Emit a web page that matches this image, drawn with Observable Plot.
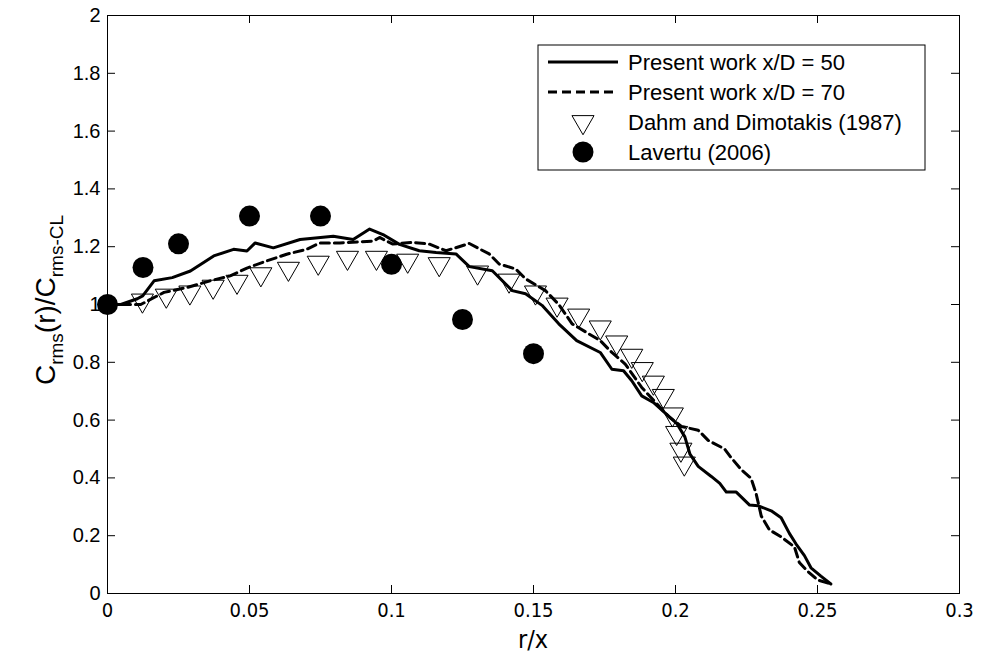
<!DOCTYPE html>
<html><head><meta charset="utf-8">
<script src="https://cdn.jsdelivr.net/npm/d3@7"></script>
<script src="https://cdn.jsdelivr.net/npm/@observablehq/plot@0.6"></script>
<style>
body{margin:0;background:#fff;}
#chart{width:984px;height:658px;}
</style></head><body><div id="chart"></div>
<script>
// Tick values
const xTicks = [0, 0.05, 0.1, 0.15, 0.2, 0.25, 0.3];
const yTicks = [0, 0.2, 0.4, 0.6, 0.8, 1, 1.2, 1.4, 1.6, 1.8, 2];

// Present work x/D = 50 (solid)
const solidX = [0, 0.0047, 0.0105, 0.0124, 0.0164, 0.0228, 0.0292, 0.0374, 0.0444, 0.0491, 0.052, 0.0584, 0.0678, 0.0795, 0.0865, 0.0923, 0.097, 0.1028, 0.1098, 0.1157, 0.1227, 0.1274, 0.1355, 0.1425, 0.1472, 0.153, 0.1589, 0.1652, 0.1735, 0.1776, 0.1817, 0.1846, 0.1881, 0.1922, 0.1963, 0.2004, 0.2033, 0.2051, 0.208, 0.2126, 0.2156, 0.2179, 0.2214, 0.2261, 0.229, 0.2337, 0.2372, 0.2401, 0.2424, 0.2454, 0.2477, 0.2512, 0.2547];
const solidY = [1.0, 1.0, 1.02, 1.03, 1.082, 1.093, 1.116, 1.168, 1.191, 1.185, 1.213, 1.196, 1.225, 1.236, 1.225, 1.261, 1.242, 1.208, 1.186, 1.18, 1.175, 1.131, 1.117, 1.048, 1.037, 0.997, 0.933, 0.875, 0.834, 0.776, 0.771, 0.736, 0.684, 0.661, 0.625, 0.589, 0.542, 0.482, 0.44, 0.405, 0.381, 0.351, 0.351, 0.306, 0.304, 0.286, 0.262, 0.208, 0.172, 0.131, 0.089, 0.06, 0.033];

// Present work x/D = 70 (dashed)
const dashedX = [0, 0.0117, 0.0199, 0.0281, 0.0362, 0.0432, 0.0491, 0.0561, 0.0631, 0.0701, 0.0748, 0.0818, 0.0935, 0.0958, 0.1005, 0.1075, 0.1133, 0.1192, 0.1274, 0.1344, 0.1379, 0.1437, 0.1472, 0.1542, 0.1589, 0.1636, 0.1735, 0.1776, 0.1823, 0.1881, 0.1928, 0.1975, 0.2021, 0.208, 0.2115, 0.2173, 0.2196, 0.2231, 0.2266, 0.2284, 0.2302, 0.2331, 0.2372, 0.2419, 0.2436, 0.2465, 0.25, 0.2547];
const dashedY = [1.0, 1.0, 1.042, 1.059, 1.082, 1.099, 1.126, 1.151, 1.174, 1.191, 1.213, 1.213, 1.219, 1.232, 1.209, 1.215, 1.209, 1.186, 1.211, 1.175, 1.14, 1.123, 1.089, 1.048, 1.0, 0.933, 0.875, 0.834, 0.794, 0.713, 0.663, 0.613, 0.578, 0.565, 0.53, 0.5, 0.47, 0.429, 0.399, 0.345, 0.268, 0.22, 0.196, 0.161, 0.107, 0.077, 0.047, 0.033];

// Dahm and Dimotakis (1987)
const dahmX = [0.0123, 0.0207, 0.029, 0.0372, 0.0456, 0.054, 0.0637, 0.0742, 0.0845, 0.0947, 0.1057, 0.1168, 0.1303, 0.1414, 0.1507, 0.1583, 0.1659, 0.1735, 0.1793, 0.1846, 0.1883, 0.1922, 0.1957, 0.1989, 0.2004, 0.2019, 0.2031];
const dahmY = [1.014, 1.031, 1.042, 1.062, 1.079, 1.105, 1.124, 1.145, 1.162, 1.162, 1.152, 1.14, 1.111, 1.083, 1.042, 1.0, 0.962, 0.921, 0.869, 0.823, 0.777, 0.73, 0.684, 0.62, 0.556, 0.498, 0.45];

// Lavertu (2006)
const lavX = [0, 0.0125, 0.025, 0.05, 0.075, 0.1, 0.125, 0.15];
const lavY = [1.0, 1.128, 1.21, 1.306, 1.306, 1.139, 0.948, 0.83];

const legendLabels = ["Present work x/D = 50", "Present work x/D = 70", "Dahm and Dimotakis (1987)", "Lavertu (2006)"];

const zip = (xs, ys) => xs.map((x, i) => ({x, y: ys[i]}));
const solid = zip(solidX, solidY);
const dashed = zip(dashedX, dashedY);
const dahm = zip(dahmX, dahmY);
const lav = zip(lavX, lavY);

const fx = d => String(+d.toFixed(2));
const fy = d => String(+d.toFixed(1));
const sansFont = "'Liberation Sans', Arial, sans-serif";
const narrowFont = "'Liberation Sans Narrow', 'DejaVu Sans Condensed', 'Liberation Sans', sans-serif";

const W = 984, H = 658, mL = 107, mR = 25, mT = 15, mB = 65;
const innerW = W - mL - mR, innerH = H - mT - mB;
const TL = 8; // inward tick length

const plot = Plot.plot({
  width: W, height: H,
  marginLeft: mL, marginRight: mR, marginTop: mT, marginBottom: mB,
  style: {fontFamily: sansFont, background: "#fff", color: "#000", overflow: "visible"},
  x: {domain: [0, 0.3]},
  y: {domain: [0, 2]},
  marks: [
    Plot.line(solid, {x: "x", y: "y", stroke: "#000", strokeWidth: 3, strokeLinejoin: "round"}),
    Plot.line(dashed, {x: "x", y: "y", stroke: "#000", strokeWidth: 3, strokeDasharray: "9,5"}),
    Plot.dot(dahm, {x: "x", y: "y", symbol: "triangle", r: 8.2, rotate: 180, stroke: "#000", strokeWidth: 1, fill: "none"}),
    Plot.dot(lav, {x: "x", y: "y", r: 10.5, fill: "#000", stroke: "none"}),
    Plot.frame({stroke: "#000", strokeWidth: 1}),
    // inward ticks on all four sides
    Plot.tickX(xTicks, {x: d => d, stroke: "#000", insetTop: innerH - TL}),
    Plot.tickX(xTicks, {x: d => d, stroke: "#000", insetBottom: innerH - TL}),
    Plot.tickY(yTicks, {y: d => d, stroke: "#000", insetRight: innerW - TL}),
    Plot.tickY(yTicks, {y: d => d, stroke: "#000", insetLeft: innerW - TL}),
    // tick labels
    Plot.axisX({anchor: "bottom", ticks: xTicks, tickSize: 0, tickPadding: 9, tickFormat: fx, label: null, fontSize: 20, fontFamily: narrowFont}),
    Plot.axisY({anchor: "left", ticks: yTicks, tickSize: 0, tickPadding: 7, tickFormat: fy, label: null, fontSize: 20})
  ]
});
document.getElementById("chart").appendChild(plot);

const svg = d3.select(plot);
// Axis titles
svg.append("text")
  .attr("x", mL + innerW / 2).attr("y", 648)
  .attr("text-anchor", "middle")
  .attr("font-family", narrowFont).attr("font-size", 25)
  .text("r/x");

const yl = svg.append("text")
  .attr("transform", "translate(55,300) rotate(-90)")
  .attr("text-anchor", "middle")
  .attr("font-family", sansFont).attr("font-size", 28);
yl.append("tspan").text("C");
yl.append("tspan").attr("font-size", 19).attr("dy", 8).text("rms");
yl.append("tspan").attr("dy", -8).text("(r)/C");
yl.append("tspan").attr("font-size", 19).attr("dy", 8).text("rms-CL");

// Legend
const lg = svg.append("g").attr("text-anchor", "start");
const boxL = 538, boxT = 45, boxR = 925, boxB = 170;
lg.append("rect").attr("x", boxL).attr("y", boxT).attr("width", boxR - boxL).attr("height", boxB - boxT)
  .attr("fill", "#fff").attr("stroke", "#000").attr("stroke-width", 1);
const rowY = [62, 92, 122, 152];
const sx0 = boxL + 10, sx1 = boxL + 80, sxm = (sx0 + sx1) / 2, tx = 628;
lg.append("line").attr("x1", sx0).attr("x2", sx1).attr("y1", rowY[0]).attr("y2", rowY[0]).attr("stroke", "#000").attr("stroke-width", 3);
lg.append("line").attr("x1", sx0).attr("x2", sx1).attr("y1", rowY[1]).attr("y2", rowY[1]).attr("stroke", "#000").attr("stroke-width", 3).attr("stroke-dasharray", "9,5");
lg.append("path").attr("d", d3.symbol(d3.symbolTriangle, Math.PI * 8.2 * 8.2)()).attr("transform", `translate(${sxm},${rowY[2]}) rotate(180)`).attr("fill", "none").attr("stroke", "#000");
lg.append("circle").attr("cx", sxm).attr("cy", rowY[3]).attr("r", 10.5).attr("fill", "#000");
legendLabels.forEach((t, i) => {
  lg.append("text").attr("x", tx).attr("y", rowY[i]).attr("dy", "0.35em")
    .attr("text-anchor", "start")
    .attr("font-family", sansFont).attr("font-size", 22).text(t);
});
</script></body></html>
